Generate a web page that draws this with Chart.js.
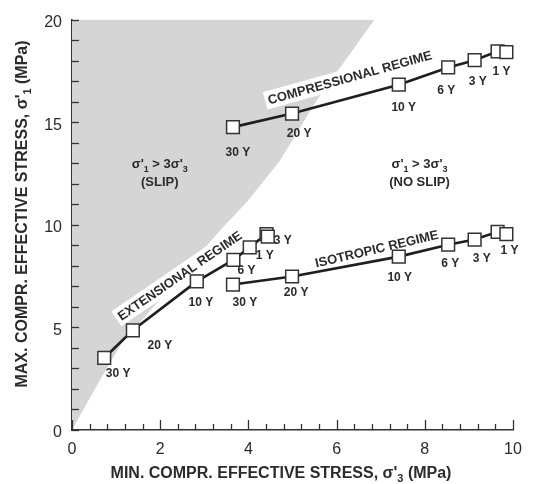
<!DOCTYPE html>
<html>
<head>
<meta charset="utf-8">
<script src="https://cdn.jsdelivr.net/npm/chart.js@4.4.1/dist/chart.umd.min.js"></script>
<style>
  html, body { margin: 0; padding: 0; background: #fff; }
</style>
</head>
<body>
<canvas id="chart" width="533" height="484"></canvas>
<script>
// slip region boundary (sigma'3, sigma'1)
const slipSigma3 = [0, 0.59, 1.12, 2.44, 3.35, 3.99, 4.71, 5.54, 6.86];
const slipSigma1 = [0, 2.27, 4.21, 7.45, 9.71, 11.17, 13.11, 16.03, 20];

// compressional regime
const compSigma3 = [3.65, 4.99, 7.41, 8.53, 9.13, 9.65, 9.85];
const compSigma1 = [14.76, 15.42, 16.83, 17.67, 18.02, 18.45, 18.41];
const compYears = ['30 Y', '20 Y', '10 Y', '6 Y', '3 Y', '', '1 Y'];

// extensional regime
const extSigma3 = [0.73, 1.38, 2.83, 3.66, 4.03, 4.41, 4.44];
const extSigma1 = [3.51, 4.86, 7.24, 8.29, 8.90, 9.55, 9.42];
const extYears = ['30 Y', '20 Y', '10 Y', '6 Y', '1 Y', '', '3 Y'];

// isotropic regime
const isoSigma3 = [3.65, 4.99, 7.41, 8.53, 9.13, 9.65, 9.85];
const isoSigma1 = [7.09, 7.48, 8.45, 9.03, 9.28, 9.66, 9.55];
const isoYears = ['30 Y', '20 Y', '10 Y', '6 Y', '3 Y', '', '1 Y'];

// label placement (pixel offsets from each marker)
const compOffsets = [[5, 26], [7, 20], [5, 23], [-2, 23], [3, 21], [0, 0], [-5, 19]];
const extOffsets = [[14, 16], [27, 15], [4, 21], [13, 11], [15, 8], [0, 0], [15, 4]];
const isoOffsets = [[12, 18], [4, 16], [1, 21], [2, 19], [7, 19], [0, 0], [3, 17]];

const regimeLabels = [
    { text: 'COMPRESSIONAL REGIME', x: 6.30, y: 17.19, angle: -15.6 },
    { text: 'EXTENSIONAL REGIME', x: 2.44, y: 7.53, angle: -34.4 },
    { text: 'ISOTROPIC REGIME', x: 6.91, y: 8.84, angle: -13.3 }
];

const zoneLabels = [
    { x: 1.99, y: 12.92, sub: '(SLIP)' },
    { x: 7.88, y: 12.92, sub: '(NO SLIP)' }
];

const FONT = '"Liberation Sans", Arial, Helvetica, sans-serif';
const INK = '#2b2b2b';

function toPoints(xs, ys) {
    return xs.map((x, i) => ({ x: x, y: ys[i] }));
}

function isMultiple(v, step) {
    const r = v / step;
    return Math.abs(r - Math.round(r)) < 1e-6;
}

// draws a line of text with subscript parts, centred on x
function drawRich(ctx, parts, x, y, size) {
    const fontMain = 'bold ' + size + 'px ' + FONT;
    const fontSub = 'bold ' + Math.round(size * 0.7) + 'px ' + FONT;
    let total = 0;
    parts.forEach(p => {
        ctx.font = p[1] ? fontSub : fontMain;
        total += ctx.measureText(p[0]).width;
    });
    let cx = x - total / 2;
    ctx.textAlign = 'left';
    ctx.textBaseline = 'middle';
    parts.forEach(p => {
        ctx.font = p[1] ? fontSub : fontMain;
        ctx.fillText(p[0], cx, y + (p[1] ? size * 0.32 : 0));
        cx += ctx.measureText(p[0]).width;
    });
}

const annotations = {
    id: 'annotations',
    // regime labels go on top of the grey area but under the lines
    afterDatasetDraw(chart, args) {
        if (args.index !== 3) return;
        const { ctx, scales: { x, y } } = chart;
        ctx.save();
        regimeLabels.forEach(l => {
            const px = x.getPixelForValue(l.x);
            const py = y.getPixelForValue(l.y);
            ctx.save();
            ctx.translate(px, py);
            ctx.rotate(l.angle * Math.PI / 180);
            ctx.font = 'bold 13px ' + FONT;
            const w = ctx.measureText(l.text).width;
            ctx.fillStyle = '#fff';
            ctx.fillRect(-w / 2 - 3, -9, w + 6, 18);
            ctx.fillStyle = INK;
            ctx.textAlign = 'center';
            ctx.textBaseline = 'middle';
            ctx.fillText(l.text, 0, 1);
            ctx.restore();
        });
        ctx.restore();
    },
    afterDatasetsDraw(chart) {
        const { ctx, chartArea: area, scales: { x, y } } = chart;
        ctx.save();
        ctx.fillStyle = INK;

        // year labels
        ctx.font = 'bold 12px ' + FONT;
        ctx.textAlign = 'center';
        ctx.textBaseline = 'middle';
        [[compSigma3, compSigma1, compYears, compOffsets],
         [extSigma3, extSigma1, extYears, extOffsets],
         [isoSigma3, isoSigma1, isoYears, isoOffsets]].forEach(s => {
            s[2].forEach((t, i) => {
                if (!t) return;
                const px = x.getPixelForValue(s[0][i]) + s[3][i][0];
                const py = y.getPixelForValue(s[1][i]) + s[3][i][1];
                ctx.fillText(t, px, py);
            });
        });

        // slip / no slip notes
        zoneLabels.forEach(z => {
            const px = x.getPixelForValue(z.x);
            const py = y.getPixelForValue(z.y);
            drawRich(ctx, [["σ'", 0], ['1', 1], [" > 3σ'", 0], ['3', 1]], px, py, 13);
            drawRich(ctx, [[z.sub, 0]], px, py + 18, 13);
        });

        // inward tick marks
        ctx.strokeStyle = '#333';
        ctx.lineWidth = 1.3;
        x.ticks.forEach(t => {
            const px = Math.round(x.getPixelForValue(t.value)) + 0.5;
            ctx.beginPath();
            ctx.moveTo(px, area.bottom);
            ctx.lineTo(px, area.bottom - (isMultiple(t.value, 2) ? 10 : 6));
            ctx.stroke();
        });
        y.ticks.forEach(t => {
            const py = Math.round(y.getPixelForValue(t.value)) + 0.5;
            ctx.beginPath();
            ctx.moveTo(area.left, py);
            ctx.lineTo(area.left + 7, py);
            ctx.stroke();
        });

        // axis titles
        drawRich(ctx, [["MIN. COMPR. EFFECTIVE STRESS, σ'", 0], ['3', 1], [' (MPa)', 0]], 281, 474, 16);
        ctx.save();
        ctx.translate(23, 214);
        ctx.rotate(-Math.PI / 2);
        drawRich(ctx, [["MAX. COMPR. EFFECTIVE STRESS, σ'", 0], ['1', 1], [' (MPa)', 0]], 0, 0, 16);
        ctx.restore();

        ctx.restore();
    }
};

const regimeStyle = {
    type: 'line',
    borderColor: '#1e1e1e',
    borderWidth: 2.6,
    pointStyle: 'rect',
    pointRadius: 9,
    pointBackgroundColor: '#fff',
    pointBorderColor: '#333',
    pointBorderWidth: 1.5,
    fill: false,
    clip: false,
    order: 1
};

new Chart(document.getElementById('chart'), {
    type: 'line',
    data: {
        datasets: [
            Object.assign({ label: 'Compressional', data: toPoints(compSigma3, compSigma1) }, regimeStyle),
            Object.assign({ label: 'Extensional', data: toPoints(extSigma3, extSigma1) }, regimeStyle),
            Object.assign({ label: 'Isotropic', data: toPoints(isoSigma3, isoSigma1) }, regimeStyle),
            {
                label: 'Slip',
                data: toPoints(slipSigma3, slipSigma1),
                borderWidth: 0,
                pointRadius: 0,
                backgroundColor: '#d5d5d5',
                fill: 'end',
                order: 10
            }
        ]
    },
    options: {
        responsive: false,
        devicePixelRatio: 1,
        animation: false,
        events: [],
        layout: { padding: { left: 0, top: 18, right: 20, bottom: 0 } },
        plugins: { legend: { display: false }, tooltip: { enabled: false } },
        scales: {
            x: {
                type: 'linear',
                min: 0,
                max: 10,
                afterFit: s => { s.height = 54; },
                grid: { display: false, drawTicks: false },
                border: { display: true, color: '#333', width: 1.5 },
                ticks: {
                    stepSize: 0.4,
                    autoSkip: false,
                    maxRotation: 0,
                    padding: 10,
                    color: '#2b2b2b',
                    font: { family: FONT, size: 16 },
                    callback: v => isMultiple(v, 2) ? String(Math.round(v)) : ''
                }
            },
            y: {
                type: 'linear',
                min: 0,
                max: 20,
                afterFit: s => { s.width = 72; },
                grid: { display: false, drawTicks: false },
                border: { display: true, color: '#333', width: 1.5 },
                ticks: {
                    stepSize: 1,
                    autoSkip: false,
                    padding: 10,
                    labelOffset: 3,
                    color: '#2b2b2b',
                    font: { family: FONT, size: 16 },
                    callback: v => isMultiple(v, 5) ? String(Math.round(v)) : ''
                }
            }
        }
    },
    plugins: [annotations]
});
</script>
</body>
</html>
